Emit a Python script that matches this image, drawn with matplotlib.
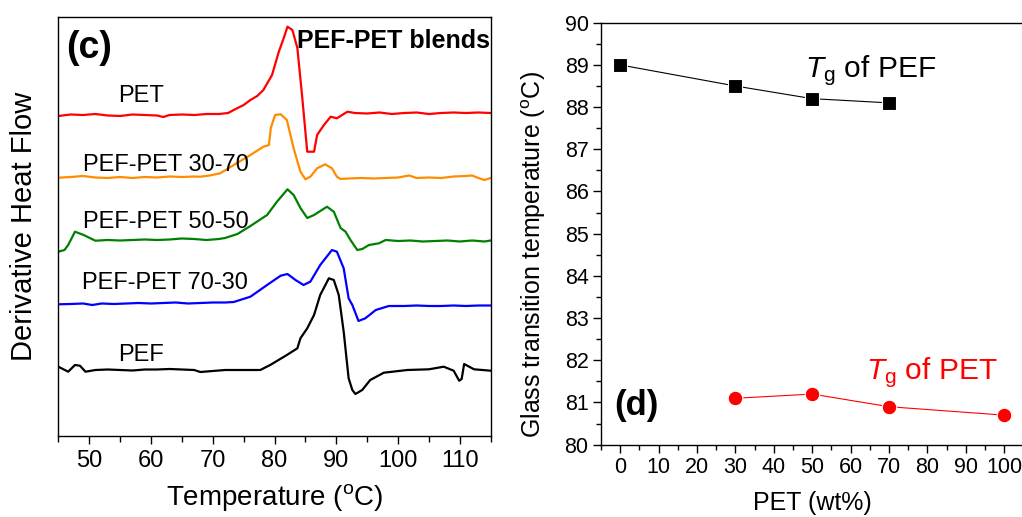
import matplotlib
matplotlib.use("Agg")
import matplotlib.pyplot as plt
from matplotlib.ticker import MultipleLocator

plt.rcParams['font.family'] = ['Liberation Sans', 'DejaVu Sans']
plt.rcParams['mathtext.fontset'] = 'custom'
plt.rcParams['mathtext.rm'] = 'Liberation Sans'
plt.rcParams['mathtext.it'] = 'Liberation Sans:italic'

# ---------------- data: panel (c) derivative heat flow (a.u.) ----------------
pet_T = [45, 47, 49, 51, 53, 55, 57, 59, 61, 62, 63, 65, 67, 69, 71, 72.5, 73.4, 75, 76.1, 77.2,
         78.2, 79.6, 80.7, 81.5, 82.1, 82.9, 83.7, 84.5, 85.3, 86.4, 86.9, 88.0, 89.1, 90.1, 91.8,
         93, 95, 97, 99, 101, 103, 105, 107, 109, 111, 113, 115]
pet_y = [116, 114.5, 115, 114, 115.5, 116, 114.5, 115, 115.5, 117, 115, 114.5, 115, 114, 114, 113,
         110, 105, 100, 96, 90, 75, 51.7, 38, 26.7, 30, 48, 98, 151.7, 151.7, 135, 125, 116.7, 118.3,
         111.7, 113, 113.5, 112.5, 114, 113, 112.5, 114, 113, 112.5, 113, 112.5, 113]

b3070_T = [45, 47, 49, 51, 53, 55, 57, 59, 61, 63, 65, 67, 68, 69.5, 71.2, 73.4, 76.1, 78.2, 79.1,
           79.4, 80.1, 81.0, 82.0, 83.1, 84.2, 85.0, 85.8, 86.9, 88.2, 89.3, 90.1, 90.7, 92, 94, 96,
           98, 100, 101.8, 103, 105, 107, 109, 111, 112, 113, 114, 115]
b3070_y = [177.7, 177, 176, 177.5, 178, 177, 178, 177, 177.5, 176.5, 177, 176.5, 176.7, 175.5, 173.3,
           165, 155, 146.7, 145, 128, 115, 114.3, 120, 148.3, 171.7, 179.3, 176.7, 168.3, 164.3,
           168.3, 176.7, 179, 178.5, 178, 178.5, 178, 177.5, 175.5, 178, 177.5, 178, 176.5, 176,
           175.5, 178, 180, 178]

b5050_T = [45, 46.0, 46.6, 47.7, 49.1, 51, 53, 55, 57, 59, 61, 63, 65, 67, 69, 71, 72, 74, 76.1,
           78.8, 80.4, 82.1, 83.1, 84.2, 85.3, 86.4, 88.5, 89.6, 90.7, 91.5, 92.3, 93.4, 94.2, 95.3,
           96.9, 98, 100, 102, 104, 106, 108, 110, 112, 114, 115]
b5050_y = [251.7, 250, 245, 231.7, 235, 240.7, 240, 240.5, 240, 239.5, 240, 239.5, 238.5, 239, 240,
           239, 238, 234, 226, 215, 201.7, 189.3, 195, 208, 218, 215, 206.7, 211.7, 228, 231.7, 240,
           250, 249, 245, 243.3, 240, 241, 240.5, 241.5, 241, 240.5, 241.5, 240.5, 241.5, 240.5]

b7030_T = [45, 47, 49, 50.5, 52, 54, 56, 58, 60, 62, 64, 66, 68, 70, 72, 73.4, 76.1, 78.8, 81.0,
           82.1, 83.4, 84.7, 85.8, 87.4, 89.3, 90.1, 91.2, 92.0, 92.6, 93.6, 94.7, 96.4, 98.5, 101,
           103, 105, 107, 109, 111, 113, 115]
b7030_y = [304.3, 304, 303.5, 305, 303.5, 304, 303.5, 303, 303.5, 303, 302.5, 303.5, 303, 302.5,
           302.5, 302, 296.7, 285, 275.7, 274, 280, 285, 281.7, 265, 250, 251.7, 268.3, 298.3, 305,
           321, 318.3, 310, 306, 306, 305.5, 306, 306, 305.5, 306, 305.5, 305.5]

pef_T = [45, 46.6, 47.7, 48.5, 49.4, 51, 53, 55, 57, 59, 61, 63, 65, 67, 68, 70, 72, 74, 76, 77.7,
         79.3, 82.0, 83.7, 84.2, 85.3, 86.4, 87.4, 88.8, 89.6, 90.4, 91.2, 92.0, 92.6, 93.1, 94.2,
         95.5, 97.7, 101.5, 105, 107.4, 109.0, 109.9, 110.3, 110.7, 112.3, 115]
pef_y = [366.7, 371.7, 365, 365.7, 371.7, 370, 369.5, 370, 370.5, 369.5, 369.5, 369, 369.5, 370,
         372, 371, 370, 370, 370, 370, 365, 355, 348.3, 338.3, 328.3, 315, 295, 278.3, 280, 295,
         331.7, 378.3, 390, 394, 390, 380, 372.7, 370, 369.3, 366.7, 370.7, 380.7, 379, 364, 369.3,
         370.7]

curve_labels = ['PET', 'PEF-PET 30-70', 'PEF-PET 50-50', 'PEF-PET 70-30', 'PEF']
curve_colors = ['#ff0000', '#ff8c00', '#008000', '#0000ff', '#000000']

# ---------------- data: panel (d) glass transition temperatures ----------------
pef_wt = [0, 30, 50, 70]
pef_tg = [89.0, 88.5, 88.2, 88.1]
pet_wt = [30, 50, 70, 100]
pet_tg = [81.1, 81.2, 80.9, 80.7]

# ---------------- figure ----------------
W, H = 1022, 517
fig = plt.figure(figsize=(W / 100, H / 100), dpi=100)

PY0 = 436.0  # baseline reference for digitised heights
axc = fig.add_axes([58.3 / W, 1 - 436 / H, (490.7 - 58.3) / W, (436 - 16.7) / H])
curves = [(pet_T, pet_y), (b3070_T, b3070_y), (b5050_T, b5050_y), (b7030_T, b7030_y), (pef_T, pef_y)]
for (t, yy), c in zip(curves, curve_colors):
    axc.plot(t, [PY0 - v for v in yy], color=c, lw=1.6, solid_joinstyle='round')
axc.set_xlim(45, 115)
axc.set_ylim(0, PY0 - 16.7)
axc.xaxis.set_major_locator(MultipleLocator(10))
axc.xaxis.set_minor_locator(MultipleLocator(5))
axc.set_yticks([])
axc.tick_params(axis='x', which='major', direction='out', length=6, width=1, labelsize=17, pad=4)
axc.tick_params(axis='x', which='minor', direction='out', length=4, width=1)
for s in axc.spines.values():
    s.set_linewidth(1.0)
axc.set_xlabel('Temperature ($^{\\mathrm{o}}$C)', fontsize=20, labelpad=7)
axc.set_ylabel('Derivative Heat Flow', fontsize=21)
axc.yaxis.set_label_coords(-0.046, 0.5)

def px2data(ax, px, py):
    inv = ax.transData.inverted()
    return inv.transform((px, H - py))

label_pos = [(141.5, 96.5, 'center'), (83, 165, 'left'), (83, 222, 'left'), (82, 283, 'left'),
             (141, 355, 'center')]
for lab, (px, py, ha) in zip(curve_labels, label_pos):
    x, y = px2data(axc, px, py)
    axc.text(x, y, lab, fontsize=17, ha=ha, va='center', color='black')
x, y = px2data(axc, 66, 48)
axc.text(x, y, '(c)', fontsize=27, fontweight='bold', ha='left', va='center')
x, y = px2data(axc, 490, 41)
axc.text(x, y, 'PEF-PET blends', fontsize=18, fontweight='bold', ha='right', va='center')

# panel (d)
axd = fig.add_axes([601 / W, 1 - 444.7 / H, (1023.5 - 601) / W, (444.7 - 22.7) / H])
axd.plot(pef_wt, pef_tg, color='black', lw=0.8, marker='s', ms=9.5, mfc='black', mec='white', mew=0.8)
axd.plot(pet_wt, pet_tg, color='#ff0000', lw=0.8, marker='o', ms=10.5, mfc='#ff0000', mec='white', mew=0.8)
axd.set_xlim(-5, 105)
axd.set_ylim(80, 90)
axd.xaxis.set_major_locator(MultipleLocator(10))
axd.xaxis.set_minor_locator(MultipleLocator(5))
axd.yaxis.set_major_locator(MultipleLocator(1))
axd.yaxis.set_minor_locator(MultipleLocator(0.5))
axd.tick_params(which='major', direction='out', length=6, width=1, labelsize=15.5, pad=3)
axd.tick_params(which='minor', direction='out', length=3.5, width=1)
axd.spines['right'].set_visible(False)
for s in axd.spines.values():
    s.set_linewidth(1.0)
axd.set_xlabel('PET (wt%)', fontsize=18, labelpad=9)
axd.set_ylabel('Glass transition temperature ($^{\\mathrm{o}}$C)', fontsize=18)
axd.yaxis.set_label_coords(-0.1255, 0.45)
axd.text(48, 88.45, '$T_{\\mathrm{g}}$ of PEF', fontsize=21.5, ha='left', va='bottom')
axd.text(64, 81.3, '$T_{\\mathrm{g}}$ of PET', fontsize=21.5, ha='left', va='bottom', color='#ff0000')
axd.text(-1.5, 80.93, '(d)', fontsize=25, fontweight='bold', ha='left', va='center')

fig.savefig('out.png', dpi=100)
